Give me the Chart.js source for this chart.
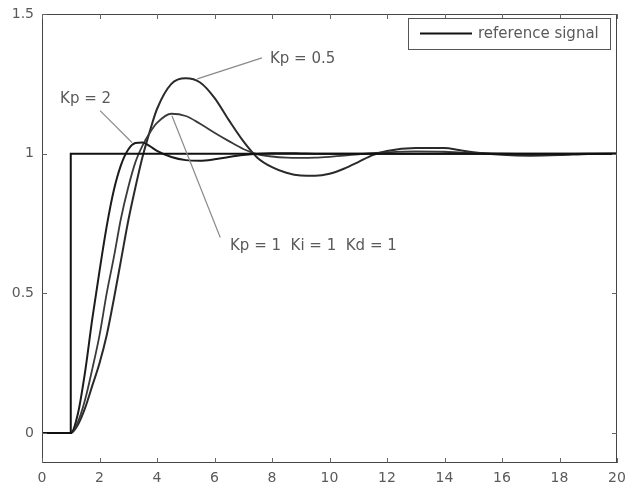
<!DOCTYPE html>
<html>
<head>
<meta charset="utf-8">
<script src="https://cdn.jsdelivr.net/npm/chart.js@4.4.1/dist/chart.umd.min.js"></script>
<style>
  html, body { margin: 0; padding: 0; background: #fff; }
  #wrap { width: 627px; height: 489px; }
</style>
</head>
<body>
<div id="wrap"><canvas id="myChart" width="627" height="489"></canvas></div>
<script>
// step input
const refTime = [0, 1, 1, 20];
const refSignal = [0, 0, 1, 1];

// sample times shared by the three responses
const time = [0, 1, 1.25, 1.5, 1.75, 2, 2.25, 2.5, 2.75, 3, 3.25, 3.5, 3.75, 4, 4.5, 5, 5.5, 6, 6.5, 7,
    7.5, 8, 8.5, 9, 9.5, 10, 10.5, 11, 11.5, 12, 13, 14, 14.5, 15, 16, 17, 18, 19, 20];

const kp2 = [0, 0, 0.07, 0.22, 0.41, 0.58, 0.74, 0.87, 0.96, 1.015, 1.038, 1.04, 1.027, 1.01, 0.988, 0.977, 0.975, 0.98, 0.988, 0.995,
    1.0, 1.002, 1.002, 1.001, 1.0, 1.0, 1.0, 1.0, 1.0, 1.0, 1.0, 1.0, 1.0, 1.0, 1.0, 1.0, 1.0, 1.0, 1.0];

const kp1 = [0, 0, 0.04, 0.12, 0.23, 0.35, 0.5, 0.63, 0.77, 0.88, 0.97, 1.03, 1.075, 1.11, 1.143, 1.135, 1.107, 1.075, 1.045, 1.017,
    0.998, 0.99, 0.986, 0.985, 0.986, 0.989, 0.993, 0.998, 1.002, 1.005, 1.008, 1.007, 1.005, 1.003, 1.0, 0.999, 0.999, 1.0, 1.0];

const kp05 = [0, 0, 0.03, 0.09, 0.17, 0.25, 0.35, 0.48, 0.62, 0.76, 0.88, 0.99, 1.08, 1.16, 1.25, 1.27, 1.255, 1.2, 1.12, 1.045,
    0.985, 0.952, 0.932, 0.922, 0.921, 0.928, 0.946, 0.97, 0.995, 1.01, 1.02, 1.02, 1.013, 1.005, 0.996, 0.993, 0.995, 0.999, 1.0];

const xTicks = [0, 2, 4, 6, 8, 10, 12, 14, 16, 18, 20];
const yTicks = [0, 0.5, 1, 1.5];

// labels with leader lines, in data units
const notes = [
    { text: 'Kp = 0.5', at: [7.93, 1.339], from: [5.4, 1.268], to: [7.65, 1.343] },
    { text: 'Kp = 2', at: [0.63, 1.196], from: [2.02, 1.154], to: [3.13, 1.04] },
    { text: 'Kp = 1  Ki = 1  Kd = 1', at: [6.54, 0.671], from: [4.52, 1.136], to: [6.2, 0.70] },
];

const pts = (xs, ys) => xs.map((x, i) => ({ x: x, y: ys[i] }));
const family = '"DejaVu Sans", Arial, sans-serif';
const tickFont = { family: family, size: 14 };
const noteFont = '15px ' + family;
const inkGray = '#5a5a5a';

const decor = {
    id: 'decor',
    afterDraw(chart) {
        const ctx = chart.ctx;
        const a = chart.chartArea;
        const xs = chart.scales.x, ys = chart.scales.y;
        ctx.save();
        // frame
        ctx.strokeStyle = '#444';
        ctx.lineWidth = 1;
        ctx.strokeRect(a.left + 0.5, a.top + 0.5, a.right - a.left - 1, a.bottom - a.top - 1);
        // inward ticks on all four sides
        ctx.strokeStyle = '#666';
        ctx.beginPath();
        xTicks.forEach(v => {
            const px = Math.round(xs.getPixelForValue(v)) + 0.5;
            ctx.moveTo(px, a.bottom); ctx.lineTo(px, a.bottom - 5);
            ctx.moveTo(px, a.top); ctx.lineTo(px, a.top + 5);
        });
        yTicks.forEach(v => {
            const py = Math.round(ys.getPixelForValue(v)) + 0.5;
            ctx.moveTo(a.left, py); ctx.lineTo(a.left + 5, py);
            ctx.moveTo(a.right, py); ctx.lineTo(a.right - 5, py);
        });
        ctx.stroke();

        // annotations
        ctx.font = noteFont;
        ctx.textBaseline = 'middle';
        ctx.textAlign = 'left';
        notes.forEach(n => {
            ctx.strokeStyle = '#8a8a8a';
            ctx.lineWidth = 1.2;
            ctx.beginPath();
            ctx.moveTo(xs.getPixelForValue(n.from[0]), ys.getPixelForValue(n.from[1]));
            ctx.lineTo(xs.getPixelForValue(n.to[0]), ys.getPixelForValue(n.to[1]));
            ctx.stroke();
            ctx.fillStyle = inkGray;
            ctx.fillText(n.text, xs.getPixelForValue(n.at[0]), ys.getPixelForValue(n.at[1]));
        });

        // legend box, top right inside the axes
        const ds = chart.data.datasets[0];
        const bw = 202, bh = 31;
        const bx = a.right - 7 - bw, by = a.top + 4;
        ctx.fillStyle = '#fff';
        ctx.fillRect(bx, by, bw, bh);
        ctx.strokeStyle = '#555';
        ctx.lineWidth = 1;
        ctx.strokeRect(bx + 0.5, by + 0.5, bw, bh);
        ctx.strokeStyle = ds.borderColor;
        ctx.lineWidth = 2;
        ctx.beginPath();
        ctx.moveTo(bx + 12, by + bh / 2);
        ctx.lineTo(bx + 64, by + bh / 2);
        ctx.stroke();
        ctx.fillStyle = inkGray;
        ctx.fillText(ds.label, bx + 70, by + bh / 2 + 1);
        ctx.restore();
    }
};

const line = (label, data, color, width) => ({
    label: label,
    data: data,
    borderColor: color,
    borderWidth: width,
    pointRadius: 0,
    fill: false,
});

const config = {
    type: 'line',
    data: {
        datasets: [
            Object.assign(line('reference signal', pts(refTime, refSignal), '#111', 2), { tension: 0 }),
            Object.assign(line('Kp = 2', pts(time, kp2), '#1c1c1c', 2), { cubicInterpolationMode: 'monotone' }),
            Object.assign(line('Kp = 1', pts(time, kp1), '#3a3a3a', 1.8), { cubicInterpolationMode: 'monotone' }),
            Object.assign(line('Kp = 0.5', pts(time, kp05), '#2a2a2a', 2), { cubicInterpolationMode: 'monotone' }),
        ]
    },
    options: {
        responsive: false,
        animation: false,
        layout: { padding: { top: 14, right: 10, left: 0, bottom: 0 } },
        plugins: { legend: { display: false }, tooltip: { enabled: false } },
        scales: {
            x: {
                type: 'linear',
                min: 0,
                max: 20,
                afterBuildTicks: s => { s.ticks = xTicks.map(v => ({ value: v })); },
                afterFit: s => { s.height = 26; s.paddingLeft = 0; s.paddingRight = 0; },
                grid: { display: false, drawTicks: false },
                border: { display: false },
                ticks: { color: inkGray, font: tickFont, padding: 7, maxRotation: 0, callback: v => String(v) },
            },
            y: {
                type: 'linear',
                min: -0.107,
                max: 1.5,
                afterBuildTicks: s => { s.ticks = yTicks.map(v => ({ value: v })); },
                afterFit: s => { s.width = 42; s.paddingTop = 0; s.paddingBottom = 0; },
                grid: { display: false, drawTicks: false },
                border: { display: false },
                ticks: { color: inkGray, font: tickFont, padding: 8, callback: v => String(v) },
            }
        }
    },
    plugins: [decor]
};

const myChart = new Chart(document.getElementById('myChart'), config);
</script>
</body>
</html>
